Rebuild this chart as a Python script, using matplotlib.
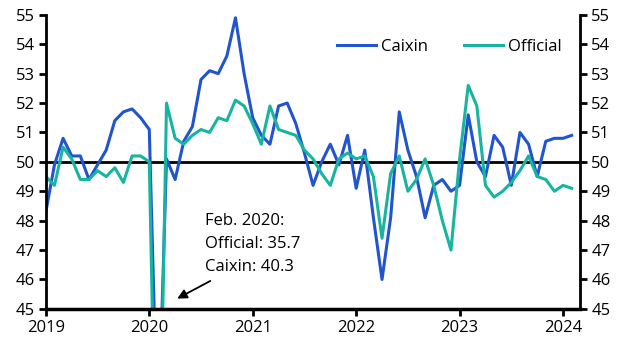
import matplotlib
matplotlib.use("Agg")
import matplotlib.pyplot as plt
import numpy as np

# monthly manufacturing PMI, Jan 2019 - Feb 2024
caixin = [48.3, 49.9, 50.8, 50.2, 50.2, 49.4, 49.9, 50.4, 51.4, 51.7, 51.8, 51.5,
          51.1, 40.3, 50.1, 49.4, 50.7, 51.2, 52.8, 53.1, 53.0, 53.6, 54.9, 53.0,
          51.5, 50.9, 50.6, 51.9, 52.0, 51.3, 50.3, 49.2, 50.0, 50.6, 49.9, 50.9,
          49.1, 50.4, 48.1, 46.0, 48.1, 51.7, 50.4, 49.5, 48.1, 49.2, 49.4, 49.0,
          49.2, 51.6, 50.0, 49.5, 50.9, 50.5, 49.2, 51.0, 50.6, 49.5, 50.7, 50.8,
          50.8, 50.9]
official = [49.5, 49.2, 50.5, 50.1, 49.4, 49.4, 49.7, 49.5, 49.8, 49.3, 50.2, 50.2,
            50.0, 35.7, 52.0, 50.8, 50.6, 50.9, 51.1, 51.0, 51.5, 51.4, 52.1, 51.9,
            51.3, 50.6, 51.9, 51.1, 51.0, 50.9, 50.4, 50.1, 49.6, 49.2, 50.1, 50.3,
            50.1, 50.2, 49.5, 47.4, 49.6, 50.2, 49.0, 49.4, 50.1, 49.2, 48.0, 47.0,
            50.1, 52.6, 51.9, 49.2, 48.8, 49.0, 49.3, 49.7, 50.2, 49.5, 49.4, 49.0,
            49.2, 49.1]
years = [2019, 2020, 2021, 2022, 2023, 2024]
yticks = list(range(45, 56))

x = 2019 + np.arange(len(caixin)) / 12

plt.rcParams['font.family'] = ['Open Sans', 'DejaVu Sans']
plt.rcParams['font.size'] = 12

fig = plt.figure(figsize=(6.28, 3.53), dpi=100)
ax = fig.add_axes([0.073, 0.125, 0.851, 0.833])

ax.plot(x, caixin, color='#2154d0', lw=2.2, label='Caixin')
ax.plot(x, official, color='#17b5a0', lw=2.2, label='Official')
ax.axhline(50, color='black', lw=2, zorder=1)

ax.set_ylim(45, 55)
ax.set_xlim(2019, 2019 + 62 / 12)
ax.set_yticks(yticks)
ax.set_xticks(years)
ax.set_xticklabels([str(y) for y in years])

for s in ['top', 'right']:
    ax.spines[s].set_visible(False)
ax.spines['left'].set_linewidth(2)
ax.spines['bottom'].set_linewidth(2.5)
ax.tick_params(axis='both', width=2, length=5, direction='out', pad=3)

ax2 = ax.twinx()
ax2.set_ylim(45, 55)
ax2.set_yticks(yticks)
for s in ['top', 'left', 'bottom']:
    ax2.spines[s].set_visible(False)
ax2.spines['right'].set_linewidth(2)
ax2.tick_params(axis='y', width=2, length=5, direction='out', pad=3)

ax.legend(loc='upper right', bbox_to_anchor=(0.993, 0.968), ncol=2, frameon=False,
          handlelength=2.3, handletextpad=0.3, columnspacing=2.2, fontsize=12)

ax.text(2020.54, 47.22, 'Feb. 2020:\nOfficial: 35.7\nCaixin: 40.3',
        fontsize=12, ha='left', va='center', linespacing=1.58)
ax.annotate('', xy=(2020.27, 45.35), xytext=(2020.59, 45.95),
            arrowprops=dict(arrowstyle='-|>', color='black', lw=1.3,
                            mutation_scale=14, shrinkA=0, shrinkB=0))

fig.savefig('out.png', dpi=100)
